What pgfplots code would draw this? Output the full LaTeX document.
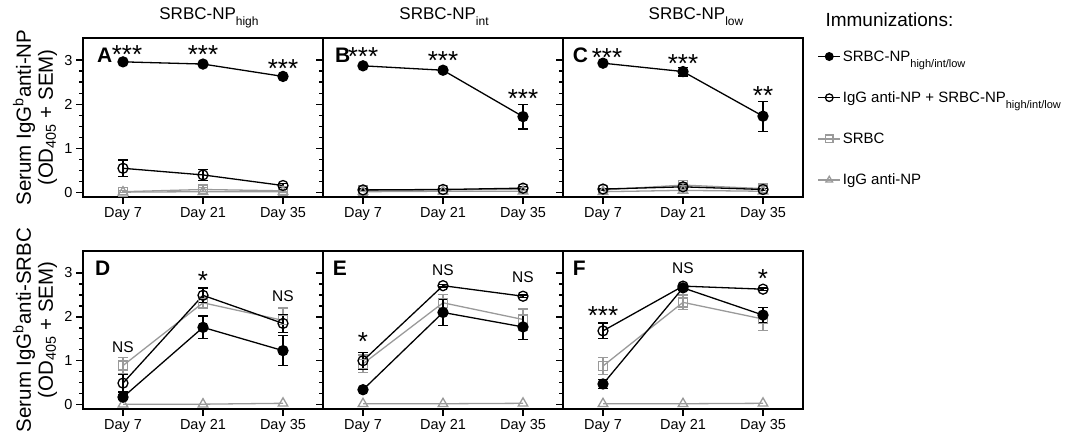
\documentclass[border=0pt]{standalone}
\usepackage{fontspec}
\setmainfont{Liberation Sans}
\usepackage{pgfplots}
\pgfplotsset{compat=1.18}

\definecolor{grayser}{HTML}{9A9A9A}

\newcommand{\fs}[1]{\fontsize{#1}{#1}\selectfont}
% lowered, small subscripts as in the figure
\newcommand{\tsub}[1]{\raisebox{-6pt}{\fs{12}#1}}
\newcommand{\lsub}[1]{\smash{\raisebox{-6pt}{\fs{11}#1}}}
\newcommand{\stars}[3]{\node[font=\fs{26}, anchor=base, yshift=-15pt] at (axis cs:#1,#2) {#3};}
\newcommand{\ns}[3]{\node[font=\fs{15.5}, anchor=base, yshift=-5.5pt] at (axis cs:#1,#2) {#3};}
\newcommand{\panel}[2]{\node[font=\bfseries\fs{21}, anchor=west, inner sep=0pt] at (axis description cs:#1,0.89) {#2};}

\pgfplotsset{
  panel/.style={
    scale only axis, width=240pt, height=159pt,
    xmin=-0.5, xmax=2.5, ymin=-0.1, ymax=3.5,
    xtick={0,1,2}, xticklabels={Day 7,Day 21,Day 35},
    ytick={0,1,2,3}, minor y tick num=3,
    xtick pos=lower, ytick pos=left, tick align=outside,
    major tick length=7pt, minor tick length=4pt,
    every tick/.style={black, line width=1.4pt},
    axis line style={line width=2pt},
    tick label style={font=\fs{14.5}},
    /pgf/number format/assume math mode=true,
    title style={at={(axis description cs:0.5,1)}, anchor=base, yshift=13pt, font=\fs{17}},
    ylabel style={at={(axis description cs:-0.2,0.5)}, anchor=center, align=center,
      font=\fontsize{20.5}{22}\selectfont},
    clip=false,
    legend image code/.code={
      \draw[mark size=3.8pt, mark repeat=2, mark phase=2]
        plot coordinates {(0pt,0pt) (11pt,0pt) (22pt,0pt)};
      \draw[line width=1.1pt] (0pt,0pt) -- (22pt,0pt);
    },
  },
  eb/.style={error bars/.cd, y dir=both, y explicit,
    error bar style={line width=1.3pt},
    error mark options={rotate=90, line width=1.3pt, mark size=5pt}},
  sfill/.style={black, line width=1.3pt, mark=*, mark size=5pt,
    mark options={solid, fill=black}, eb},
  sopen/.style={black, line width=1.3pt, mark=o, mark size=5pt,
    mark options={solid, fill=white}, eb},
  ssq/.style={grayser, line width=1.3pt, mark=square, mark size=4.5pt,
    mark options={solid, fill=white}, eb},
  stri/.style={grayser, line width=1.3pt, mark=triangle, mark size=5.5pt,
    mark options={solid, fill=white}},
}

\begin{document}
\begin{tikzpicture}
\useasboundingbox (0,0) rectangle (1073pt,-439pt);

% ---- top row: anti-NP ----
\begin{axis}[panel, at={(83pt,-38pt)}, anchor=north west,
  title={SRBC-NP\tsub{high}}, title style={xshift=6pt},
  ylabel={Serum IgG\textsuperscript{b}anti-NP\\(OD\textsubscript{405} + SEM)}]
\addplot[stri] coordinates {(0,0.01) (1,0.02) (2,0.02)};
\addplot[ssq] coordinates {(0,0.02) +- (0,0.02) (1,0.07) +- (0,0.05) (2,0.04) +- (0,0.03)};
\addplot[sopen] coordinates {(0,0.55) +- (0,0.19) (1,0.40) +- (0,0.13) (2,0.16) +- (0,0.04)};
\addplot[sfill] coordinates {(0,2.96) +- (0,0.03) (1,2.91) +- (0,0.03) (2,2.63) +- (0,0.04)};
\panel{0.058}{A}
\stars{0.05}{3.27}{***}\stars{1}{3.27}{***}\stars{2}{2.95}{***}
\end{axis}

\begin{axis}[panel, at={(323pt,-38pt)}, anchor=north west,
  title={SRBC-NP\tsub{int}}, title style={xshift=1pt}, yticklabels={}]
\addplot[stri] coordinates {(0,0.02) (1,0.03) (2,0.03)};
\addplot[ssq] coordinates {(0,0.05) +- (0,0.02) (1,0.06) +- (0,0.02) (2,0.08) +- (0,0.03)};
\addplot[sopen] coordinates {(0,0.06) +- (0,0.02) (1,0.07) +- (0,0.02) (2,0.10) +- (0,0.03)};
\addplot[sfill] coordinates {(0,2.87) +- (0,0.03) (1,2.77) +- (0,0.04) (2,1.72) +- (0,0.28)};
\panel{0.05}{B}
\stars{0}{3.22}{***}\stars{1}{3.13}{***}\stars{2}{2.27}{***}
\end{axis}

\begin{axis}[panel, at={(563pt,-38pt)}, anchor=north west,
  title={SRBC-NP\tsub{low}}, title style={xshift=13pt}, yticklabels={},
  reverse legend,
  legend style={at={(axis description cs:1.06,0.935)}, anchor=north west,
    draw=none, fill=none, inner sep=0pt, font=\fs{15}, row sep=25pt,
    /tikz/every even column/.append style={column sep=7pt}},
  legend cell align=left]
\addplot[stri] coordinates {(0,0.02) (1,0.05) (2,0.03)};
\addlegendentry{IgG anti-NP}
\addplot[ssq] coordinates {(0,0.06) +- (0,0.02) (1,0.17) +- (0,0.05) (2,0.09) +- (0,0.04)};
\addlegendentry{SRBC}
\addplot[sopen] coordinates {(0,0.08) +- (0,0.02) (1,0.13) +- (0,0.05) (2,0.07) +- (0,0.03)};
\addlegendentry{IgG anti-NP + SRBC-NP\lsub{high/int/low}}
\addplot[sfill] coordinates {(0,2.93) +- (0,0.03) (1,2.74) +- (0,0.10) (2,1.73) +- (0,0.34)};
\addlegendentry{SRBC-NP\lsub{high/int/low}\rule[-9pt]{0pt}{0pt}}
\panel{0.04}{C}
\stars{0.05}{3.19}{***}\stars{1}{3.06}{***}\stars{2}{2.34}{**}
\end{axis}

\node[font=\fs{19}, anchor=base west] at (822pt,-27pt) {Immunizations:};

% ---- bottom row: anti-SRBC ----
\begin{axis}[panel, height=158pt, at={(83pt,-251pt)}, anchor=north west,
  ylabel={Serum IgG\textsuperscript{b}anti-SRBC\\(OD\textsubscript{405} + SEM)}]
\addplot[stri] coordinates {(0,0.01) (1,0.01) (2,0.03)};
\addplot[ssq] coordinates {(0,0.89) +- (0,0.18) (1,2.32) +- (0,0.13) (2,1.92) +- (0,0.28)};
\addplot[sopen] coordinates {(0,0.49) +- (0,0.20) (1,2.49) +- (0,0.17) (2,1.85) +- (0,0.21)};
\addplot[sfill] coordinates {(0,0.17) +- (0,0.06) (1,1.76) +- (0,0.26) (2,1.23) +- (0,0.34)};
\panel{0.05}{D}
\ns{0}{1.32}{NS}\stars{1}{2.96}{*}\ns{2}{2.47}{NS}
\end{axis}

\begin{axis}[panel, height=158pt, at={(323pt,-251pt)}, anchor=north west, yticklabels={}]
\addplot[stri] coordinates {(0,0.02) (1,0.02) (2,0.03)};
\addplot[ssq] coordinates {(0,0.93) +- (0,0.20) (1,2.32) +- (0,0.19) (2,1.94) +- (0,0.24)};
\addplot[sopen] coordinates {(0,1.00) +- (0,0.19) (1,2.71) +- (0,0.03) (2,2.47) +- (0,0.03)};
\addplot[sfill] coordinates {(0,0.34) +- (0,0.03) (1,2.10) +- (0,0.30) (2,1.77) +- (0,0.29)};
\panel{0.04}{E}
\stars{0}{1.57}{*}\ns{1}{3.07}{NS}\ns{2}{2.91}{NS}
\end{axis}

\begin{axis}[panel, height=158pt, at={(563pt,-251pt)}, anchor=north west, yticklabels={}]
\addplot[stri] coordinates {(0,0.02) (1,0.02) (2,0.03)};
\addplot[ssq] coordinates {(0,0.88) +- (0,0.19) (1,2.33) +- (0,0.17) (2,1.95) +- (0,0.26)};
\addplot[sopen] coordinates {(0,1.68) +- (0,0.18) (1,2.70) +- (0,0.04) (2,2.63) +- (0,0.03)};
\addplot[sfill] coordinates {(0,0.47) +- (0,0.11) (1,2.66) +- (0,0.05) (2,2.04) +- (0,0.18)};
\panel{0.04}{F}
\stars{0}{2.16}{***}\ns{1}{3.11}{NS}\stars{2}{3.00}{*}
\end{axis}
\end{tikzpicture}
\end{document}
